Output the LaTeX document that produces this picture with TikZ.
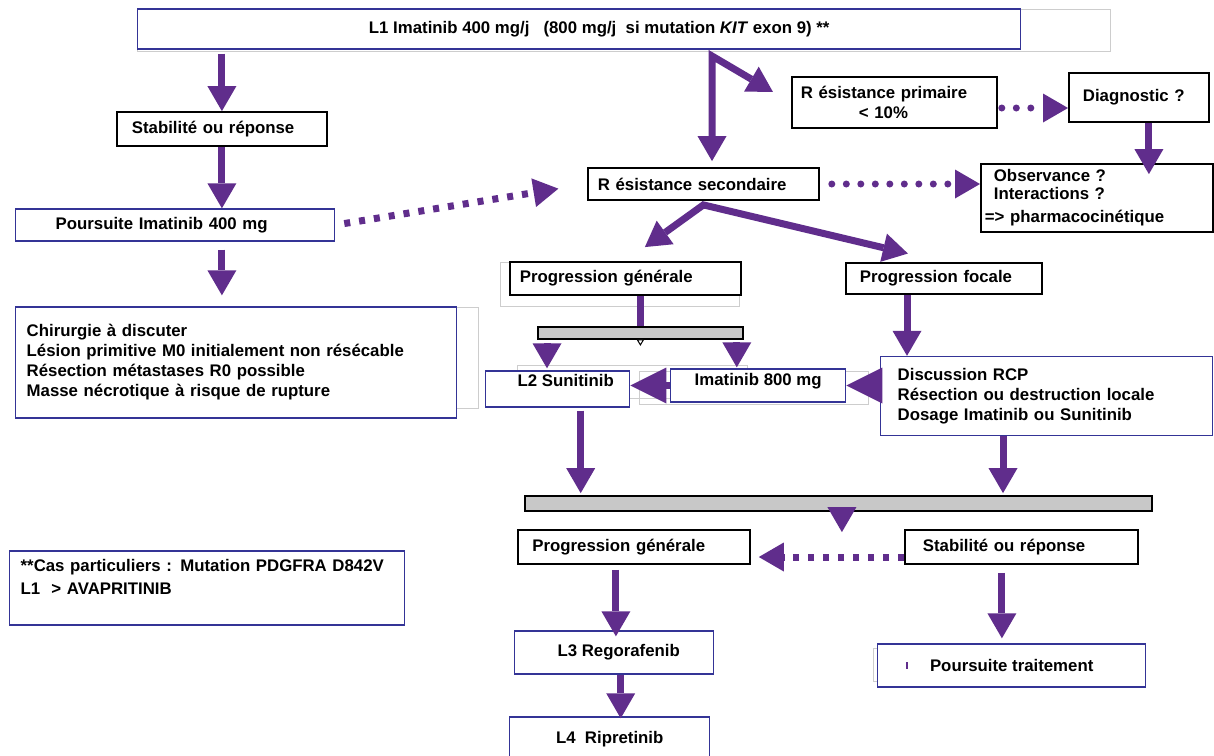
\documentclass[tikz,border=0pt]{standalone}
\usepackage{fontspec}
\setmainfont{Liberation Sans}
\usepackage{xcolor}
\usepackage{tikz}
\usetikzlibrary{arrows.meta}
\definecolor{violetgist}{RGB}{96,45,140}
\definecolor{bleucadre}{RGB}{52,52,150}
\definecolor{grisbarre}{RGB}{200,200,200}
\definecolor{grisfantome}{RGB}{205,205,205}
\tikzset{tete/.tip={Triangle[width=14.5pt,length=12.5pt,line width=0pt]}}
\tikzset{grossetete/.tip={Triangle[width=18pt,length=18pt,line width=0pt]}}
\tikzset{boite/.style={draw=black,line width=0.9pt,fill=white,inner ysep=0pt,align=left,anchor=west,font=\bfseries\fontsize{8.4}{10}\selectfont}}
\tikzset{boitebleue/.style={boite,draw=bleucadre,line width=0.7pt}}
\tikzset{barre/.style={draw=black,line width=0.9pt,fill=grisbarre,anchor=west,inner sep=0pt}}
\tikzset{fleche/.style={draw=violetgist,line width=3.5pt,-{tete}}}
\tikzset{flechegrosse/.style={draw=violetgist,line width=3.5pt,-{grossetete}}}
\tikzset{trait/.style={draw=violetgist,line width=3.5pt}}
\tikzset{pointille/.style={fleche,line cap=round,dash pattern=on 0pt off 7.25pt}}
\tikzset{tirets/.style={fleche,dash pattern=on 3pt off 4.5pt}}
\tikzset{fantome/.style={draw=grisfantome,line width=0.5pt}}

\begin{document}
\begin{tikzpicture}[x=0.5pt,y=-0.5pt]
	\fill[white] (0,0) rectangle (1214,755);
	\useasboundingbox (0,0) rectangle (1214,755);
	\draw[fantome] (137,9) rectangle (1110,51);
	\draw[fantome] (15,307) rectangle (478,408);
	\draw[fantome] (500,262) rectangle (739,306);
	\draw[fantome] (517,365) rectangle (747,398);
	\draw[fantome] (639,371) rectangle (868,404);
	\draw[fantome] (873,648) rectangle (1110,681);
	\node[boitebleue,minimum width=441.5pt,minimum height=20pt,align=center] (l1) at (137,29) {\hspace*{20pt}L1 Imatinib 400 mg/j\ \ \ (800 mg/j\ \ si mutation \textit{KIT} exon 9) **};
	\node[boite,text width=90pt,inner xsep=7.5pt,minimum height=17pt] (stab1) at (116,129) {Stabilité ou réponse};
	\node[boitebleue,text width=119.5pt,inner xsep=20pt,minimum height=16pt] (pours1) at (15,225) {Poursuite Imatinib 400 mg};
	\node[boitebleue,text width=209.5pt,inner xsep=5.5pt,minimum height=55.5pt] (chir) at (15,362.5) {Chirurgie à discuter\\Lésion primitive M0 initialement non résécable\\Résection métastases R0 possible\\Masse nécrotique à risque de rupture};
	\node[boitebleue,text width=186.5pt,inner xsep=5.5pt,minimum height=37pt] (cas) at (9,588) {**Cas particuliers : Mutation PDGFRA D842V\\[1.5pt]L1\ \ > AVAPRITINIB\\[1.5pt]\mbox{}};
	\node[boite,text width=93.5pt,inner xsep=4.5pt,minimum height=25.5pt] (rprim) at (791,102.5) {R ésistance primaire\\\hspace*{29pt}< 10\%};
	\node[boite,text width=56pt,inner xsep=7pt,minimum height=24.5pt] (diag) at (1068,97.5) {Diagnostic ?};
	\node[boite,text width=105.5pt,inner xsep=5pt,minimum height=16pt] (rsec) at (587,184) {R ésistance secondaire};
	\node[boite,text width=112pt,inner xsep=2pt,minimum height=34pt] (obs) at (980,198) {\hspace*{4.5pt}Observance ?\\[-1pt]\hspace*{4.5pt}Interactions ?\\[1.5pt]=> pharmacocinétique};
	\node[boite,text width=105.5pt,inner xsep=5pt,minimum height=16.5pt] (pg1) at (509,278.5) {Progression générale};
	\node[boite,text width=84pt,inner xsep=7pt,minimum height=15.5pt] (pfoc) at (845,278.5) {Progression focale};
	\node[barre,minimum width=102.5pt,minimum height=6pt] (barre1) at (537,333) {};
	\node[boitebleue,minimum width=72pt,minimum height=18pt,text depth=9pt] (l2) at (485,389) {\hspace*{8pt}L2 Sunitinib};
	\node[boitebleue,minimum width=87.5pt,minimum height=16.5pt,text depth=6pt] (ima800) at (670,385.5) {Imatinib 800 mg};
	\node[boitebleue,text width=149pt,inner xsep=8.5pt,minimum height=39.5pt] (rcp) at (880,396) {Discussion RCP\\Résection ou destruction locale\\Dosage Imatinib ou Sunitinib};
	\node[barre,minimum width=313.5pt,minimum height=7.5pt] (barre2) at (524,503.5) {};
	\node[boite,text width=101.5pt,inner xsep=7.25pt,minimum height=17pt] (pg2) at (517,547) {Progression générale};
	\node[boite,text width=98.5pt,inner xsep=9pt,minimum height=17pt] (stab2) at (904,547) {Stabilité ou réponse};
	\node[boitebleue,minimum width=99.5pt,minimum height=21.5pt] (l3) at (514,652.5) {\hspace*{4.5pt}L3 Regorafenib};
	\node[boitebleue,minimum width=100pt,minimum height=22pt] (l4) at (509,739) {L4\ \ Ripretinib};
	\node[boitebleue,minimum width=134pt,minimum height=21.5pt] (ptrait) at (877,665.5) {Poursuite traitement};
	\coordinate (fourche) at (712,56);
	\coordinate (fourche2) at ([yshift=-2pt]rsec.south);
	\coordinate (dp1) at ([yshift=-2.75pt]rprim.east);
	\coordinate (dg) at ([xshift=5pt]diag.south);
	\coordinate (g1) at ([xshift=5pt]barre1.south west);
	\coordinate (g2) at ([xshift=-3.5pt]barre1.south east);
	\coordinate (xfoc) at ([xshift=13.5pt]rcp.north west);
	\coordinate (xl2) at ([xshift=11.5pt]l2.south);
	\coordinate (xrcp) at ([xshift=61.5pt]rcp.south west);
	\coordinate (xmil) at ([xshift=1.75pt]barre2.south);
	\coordinate (dt) at ([yshift=-5pt]stab2.west);
	\coordinate (xpg2) at ([xshift=-9pt]pg2.south);
	\coordinate (xl3) at ([xshift=3.25pt]l3.south);
	\coordinate (xst2) at ([xshift=-9.75pt]stab2.south);
	\draw[fleche,shorten <=2pt] (stab1.north |- l1.south) -- (stab1.north);
	\draw[fleche] (stab1.south) -- (stab1.south |- pours1.north);
	\draw[fleche,shorten <=4pt,shorten >=5.5pt] (stab1.south |- pours1.south) -- (stab1.south |- chir.north);
	\draw[fleche,{tete}-{tete},shorten <=3pt,shorten >=10.5pt] (fourche |- rsec.north) -- (fourche) -- (rprim.west);
	\draw[pointille,shorten <=2pt] (dp1) -- (dp1 -| diag.west);
	\draw[fleche,shorten >=-5.5pt] (dg) -- (dg |- obs.north);
	\draw[pointille,shorten <=6pt] (rsec.east) -- (rsec.east -| obs.west);
	\draw[tirets,shorten <=4.5pt,shorten >=14.5pt] (pours1.east) -- (rsec.west);
	\draw[fleche,{tete}-{tete},shorten <=12pt,shorten >=18.5pt] (pg1.north) -- (fourche2) -- (pfoc.north);
	\draw[trait] (barre1.north |- pg1.south) -- (barre1.north);
	\draw[fill=white,line width=0.5pt] (barre1.south) ++(-3,0) -- ++(6,0) -- ++(-3,5) -- cycle;
	\draw[fleche,shorten <=2.5pt,shorten >=1pt] (g1) -- (g1 |- l2.north);
	\draw[fleche,shorten <=2.5pt,shorten >=0.5pt] (g2) -- (g2 |- ima800.north);
	\draw[flechegrosse] (ima800.west) -- (ima800.west -| l2.east);
	\draw[flechegrosse] (rcp.west |- ima800.east) -- (ima800.east);
	\draw[fleche] (xfoc |- pfoc.south) -- (xfoc);
	\draw[fleche,shorten <=1.5pt,shorten >=1pt] (xl2) -- (xl2 |- barre2.north);
	\draw[fleche,shorten >=1pt] (xrcp) -- (xrcp |- barre2.north);
	\draw[fleche,shorten >=-1.5pt] (xmil) -- (xmil |- pg2.north);
	\draw[tirets,shorten >=4pt] (dt) -- (dt -| pg2.east);
	\draw[fleche,shorten <=2.5pt,shorten >=-3pt] (xpg2) -- (xpg2 |- l3.north);
	\draw[fleche,shorten >=-1pt] (xl3) -- (xl3 |- l4.north);
	\draw[fleche,shorten <=4pt,shorten >=2.5pt] (xst2) -- (xst2 |- ptrait.north);
	\draw[violetgist,line width=0.8pt] ([xshift=15pt]ptrait.west) ++(0,-3.5) -- ++(0,7);
\end{tikzpicture}
\end{document}
